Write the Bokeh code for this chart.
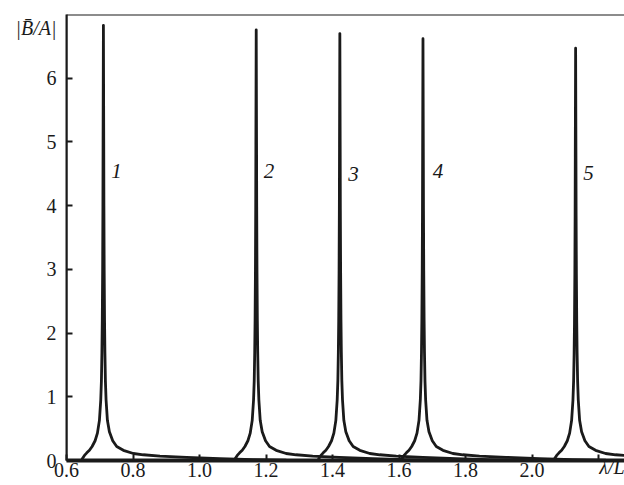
from bokeh.plotting import figure
from bokeh.models import FixedTicker, Span, Range1d
from bokeh.core.properties import value
from bokeh.embed import file_html
from bokeh.resources import INLINE

# ---- data ----
x1 = [0.645, 0.649, 0.654, 0.661, 0.669, 0.677, 0.686, 0.693, 0.699, 0.703, 0.705, 0.7065, 0.7076, 0.7087, 0.7095, 0.710,
      0.711,
      0.712, 0.7125, 0.7133, 0.7144, 0.7155, 0.717, 0.719, 0.723, 0.729, 0.739, 0.751, 0.771, 0.801, 0.831, 0.881, 0.961, 1.061, 1.161, 1.261]
y1 = [0.00, 0.04, 0.08, 0.12, 0.16, 0.22, 0.31, 0.43, 0.63, 0.95, 1.25, 1.70, 2.20, 3.00, 4.00, 5.00,
      6.83,
      5.00, 4.00, 3.00, 2.20, 1.70, 1.25, 0.95, 0.63, 0.45, 0.31, 0.22, 0.16, 0.11, 0.09, 0.07, 0.05, 0.03, 0.015, 0.005]

x2 = [1.1045, 1.1085, 1.1135, 1.1205, 1.1285, 1.1365, 1.1455, 1.1525, 1.1585, 1.1625, 1.1645, 1.166, 1.1671, 1.1682, 1.169, 1.1695,
      1.1705,
      1.1715, 1.172, 1.1728, 1.1739, 1.175, 1.1765, 1.1785, 1.1825, 1.1885, 1.1985, 1.2105, 1.2305, 1.2605, 1.2905, 1.3405, 1.4205, 1.5205, 1.6205, 1.7205]
y2 = [0.00, 0.04, 0.08, 0.12, 0.16, 0.22, 0.31, 0.43, 0.63, 0.95, 1.25, 1.70, 2.20, 3.00, 3.98, 4.96,
      6.76,
      4.96, 3.98, 3.00, 2.20, 1.70, 1.25, 0.95, 0.63, 0.45, 0.31, 0.22, 0.16, 0.11, 0.09, 0.07, 0.05, 0.03, 0.015, 0.005]

x3 = [1.356, 1.360, 1.365, 1.372, 1.380, 1.388, 1.397, 1.404, 1.410, 1.414, 1.416, 1.4175, 1.4186, 1.4197, 1.4205, 1.421,
      1.422,
      1.423, 1.4235, 1.4243, 1.4254, 1.4265, 1.428, 1.430, 1.434, 1.440, 1.450, 1.462, 1.482, 1.512, 1.542, 1.592, 1.672, 1.772, 1.872, 1.972]
y3 = [0.00, 0.04, 0.08, 0.12, 0.16, 0.22, 0.31, 0.43, 0.63, 0.95, 1.25, 1.70, 2.20, 3.00, 3.95, 4.92,
      6.70,
      4.92, 3.95, 3.00, 2.20, 1.70, 1.25, 0.95, 0.63, 0.45, 0.31, 0.22, 0.16, 0.11, 0.09, 0.07, 0.05, 0.03, 0.015, 0.005]

x4 = [1.606, 1.610, 1.615, 1.622, 1.630, 1.638, 1.647, 1.654, 1.660, 1.664, 1.666, 1.6675, 1.6686, 1.6697, 1.6705, 1.671,
      1.672,
      1.673, 1.6735, 1.6743, 1.6754, 1.6765, 1.678, 1.680, 1.684, 1.690, 1.700, 1.712, 1.732, 1.762, 1.792, 1.842, 1.922, 2.022, 2.122, 2.222]
y4 = [0.00, 0.04, 0.08, 0.12, 0.16, 0.22, 0.31, 0.43, 0.63, 0.95, 1.25, 1.70, 2.20, 2.98, 3.92, 4.87,
      6.62,
      4.87, 3.92, 2.98, 2.20, 1.70, 1.25, 0.95, 0.63, 0.45, 0.31, 0.22, 0.16, 0.11, 0.09, 0.07, 0.05, 0.03, 0.015, 0.005]

x5 = [2.065, 2.069, 2.074, 2.081, 2.089, 2.097, 2.106, 2.113, 2.119, 2.123, 2.125, 2.1265, 2.1276, 2.1287, 2.1295, 2.130,
      2.131,
      2.132, 2.1325, 2.1333, 2.1344, 2.1355, 2.137, 2.139, 2.143, 2.149, 2.159, 2.171, 2.191, 2.221, 2.251, 2.301, 2.381, 2.481, 2.581, 2.681]
y5 = [0.00, 0.04, 0.08, 0.12, 0.16, 0.22, 0.31, 0.43, 0.63, 0.95, 1.25, 1.68, 2.16, 2.93, 3.84, 4.77,
      6.47,
      4.77, 3.84, 2.93, 2.16, 1.68, 1.25, 0.95, 0.63, 0.45, 0.31, 0.22, 0.16, 0.11, 0.09, 0.07, 0.05, 0.03, 0.015, 0.005]

curve_names = ["1", "2", "3", "4", "5"]
name_x = [0.750, 1.209, 1.463, 1.717, 2.170]
name_y = [4.55, 4.55, 4.50, 4.55, 4.52]

x_ticks = [0.6, 0.8, 1.0, 1.2, 1.4, 1.6, 1.8, 2.0, 2.2]
x_tick_labels = ["0.6", "0.8", "1.0", "1.2", "1.4", "1.6", "1.8", "2.0", ""]
y_ticks = [0, 1, 2, 3, 4, 5, 6]
y_tick_labels = ["0", "1", "2", "3", "4", "5", "6"]
x_title = "\u03bb/L"
y_title = "|B\u0304/A|"

FONT = "Liberation Serif"
INK = "#1a1a1a"
NBSP = "\u00a0"

p = figure(width=624, height=485, output_backend="svg", toolbar_location=None,
           x_range=Range1d(0.6, 2.278), y_range=Range1d(0, 7.0),
           min_border_left=66, min_border_right=0, min_border_top=14, min_border_bottom=25)
p.outline_line_color = None
p.xgrid.visible = False
p.ygrid.visible = False
p.background_fill_color = "white"
p.border_fill_color = "white"

for xs, ys in [(x1, y1), (x2, y2), (x3, y3), (x4, y4), (x5, y5)]:
    p.line(xs, ys, line_color=INK, line_width=2.8, line_join="round")

p.text(x=name_x, y=name_y, text=curve_names, text_font=value(FONT), text_font_style="italic",
       text_font_size="21px", text_align="center", text_baseline="middle", text_color=INK)

for ax, ticks, labels in [(p.xaxis[0], x_ticks, x_tick_labels), (p.yaxis[0], y_ticks, y_tick_labels)]:
    ax.ticker = FixedTicker(ticks=ticks)
    ax.major_label_overrides = {t: l for t, l in zip(ticks, labels)}
    ax.major_tick_in = 6
    ax.major_tick_out = 0
    ax.minor_tick_in = 0
    ax.minor_tick_out = 0
    ax.major_tick_line_color = INK
    ax.major_tick_line_width = 2
    ax.axis_line_color = INK
    ax.major_label_text_font = FONT
    ax.major_label_text_font_size = "20px"
    ax.major_label_text_color = INK
    ax.axis_label_text_font = FONT
    ax.axis_label_text_font_style = "italic"
    ax.axis_label_text_font_size = "20px"
    ax.axis_label_text_color = INK

# x title: centred on the right end of the axis, padded so the glyphs stay inside
p.xaxis[0].axis_line_width = 4
p.xaxis[0].major_label_standoff = 2
p.xaxis[0].axis_label = x_title + NBSP * 5
p.xaxis[0].axis_label_align = "end"
p.xaxis[0].axis_label_standoff = -24

# y title: horizontal, at the top of the axis
p.yaxis[0].axis_line_width = 2
p.yaxis[0].major_label_standoff = 10
p.yaxis[0].axis_label = "\n" + y_title
p.yaxis[0].axis_label_orientation = "horizontal"
p.yaxis[0].axis_label_align = "end"
p.yaxis[0].axis_label_standoff = -13

# frame top and left edge lines
p.add_layout(Span(location=7.0, dimension="width", line_color=INK, line_width=2))
p.add_layout(Span(location=0.6, dimension="height", line_color=INK, line_width=2))

open("out.html", "w").write(file_html(p, INLINE))
